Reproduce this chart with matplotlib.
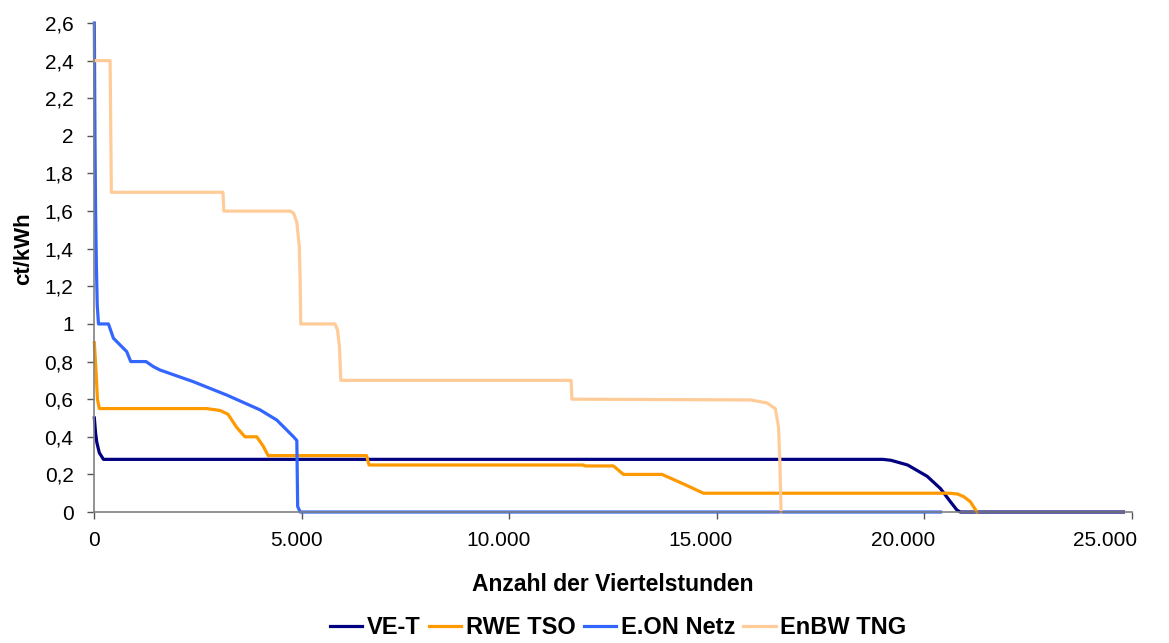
import matplotlib.pyplot as plt
import matplotlib.transforms as mtransforms
from matplotlib.ticker import FuncFormatter

plt.rcParams['font.family'] = ['Liberation Sans', 'DejaVu Sans']

# sorted price duration curves, x = number of quarter hours
vet_x = [0, 30, 60, 120, 220, 400, 19000, 19200, 19600, 20070, 20390, 20630, 20790, 20870, 24800]
vet_y = [0.5, 0.42, 0.37, 0.315, 0.28, 0.28, 0.28, 0.275, 0.25, 0.19, 0.125, 0.055, 0.01, 0, 0]

rwe_x = [0, 40, 75, 120, 2700, 3030, 3220, 3430, 3630, 3915, 4070, 4190, 6560, 6620,
         11790, 11820, 12510, 12750, 13680, 14190, 14680, 20600, 20800, 20950, 21110, 21270]
rwe_y = [0.9, 0.75, 0.6, 0.55, 0.55, 0.54, 0.52, 0.45, 0.40, 0.40, 0.35, 0.30, 0.30, 0.25,
         0.25, 0.245, 0.245, 0.20, 0.20, 0.15, 0.10, 0.10, 0.096, 0.082, 0.055, 0]

eon_x = [0, 15, 30, 50, 70, 100, 340, 460, 780, 877, 1246, 1423, 1584, 2385, 3190, 3995,
         4397, 4800, 4880, 4900, 4960, 20390]
eon_y = [2.6, 2.0, 1.6, 1.3, 1.1, 1.0, 1.0, 0.924, 0.853, 0.80, 0.80, 0.773, 0.755, 0.693,
         0.622, 0.543, 0.489, 0.40, 0.38, 0.03, 0, 0]

enbw_x = [0, 380, 410, 3100, 3120, 4720, 4800, 4880, 4940, 4960, 4975, 5800, 5860, 5907, 5940,
          11490, 11510, 15810, 16210, 16410, 16490, 16520, 16550]
enbw_y = [2.4, 2.4, 1.7, 1.7, 1.6, 1.6, 1.59, 1.54, 1.41, 1.23, 1.0, 1.0, 0.968, 0.88, 0.70,
          0.70, 0.60, 0.596, 0.58, 0.55, 0.45, 0.27, 0]

x_ticks = [0, 5000, 10000, 15000, 20000, 25000]
y_ticks = [0, 0.2, 0.4, 0.6, 0.8, 1.0, 1.2, 1.4, 1.6, 1.8, 2.0, 2.2, 2.4, 2.6]

fig = plt.figure(figsize=(11.69, 6.43), dpi=100)
ax = fig.add_axes([0.0807, 0.2037, 0.8874, 0.7605])

lw = 2.3
ax.plot(vet_x, vet_y, color='#000080', lw=lw, label='VE-T', clip_on=False)
ax.plot(rwe_x, rwe_y, color='#FF9900', lw=lw, label='RWE TSO', clip_on=False)
ax.plot(eon_x, eon_y, color='#3366FF', lw=lw, label='E.ON Netz', clip_on=False)
ax.plot(enbw_x, enbw_y, color='#FFCC99', lw=lw, label='EnBW TNG', clip_on=False)

ax.set_xlim(0, 25000)
ax.set_ylim(0, 2.6)
ax.set_xticks(x_ticks)
ax.set_yticks(y_ticks)
ax.xaxis.set_major_formatter(FuncFormatter(lambda v, p: f'{int(v):,}'.replace(',', '.')))
ax.yaxis.set_major_formatter(FuncFormatter(lambda v, p: f'{v:g}'.replace('.', ',')))
ax.tick_params(labelsize=15, length=5, width=1, color='#555555', direction='out')
ax.tick_params(axis='x', pad=9)
ax.tick_params(axis='y', pad=10)

# the original labels drift a little left of their tick marks
for i, lab in enumerate(ax.get_xticklabels()):
    shift = mtransforms.ScaledTranslation(-0.053 * i, 0, fig.dpi_scale_trans)
    lab.set_transform(lab.get_transform() + shift)

for s in ['top', 'right']:
    ax.spines[s].set_visible(False)
for s in ['left', 'bottom']:
    ax.spines[s].set_color('#808080')
    ax.spines[s].set_linewidth(1.2)

ax.set_xlabel('Anzahl der Viertelstunden', fontsize=16.5, fontweight='bold', labelpad=16)
ax.set_ylabel('ct/kWh', fontsize=16, fontweight='bold')
ax.yaxis.set_label_coords(-0.058, 0.538)

fig.legend(loc='center', bbox_to_anchor=(0.529, 0.024), ncol=4, frameon=False,
           prop={'size': 17, 'weight': 'bold'}, handlelength=1.36, handletextpad=0.2,
           columnspacing=0.35)

fig.savefig('out.png', dpi=100)
